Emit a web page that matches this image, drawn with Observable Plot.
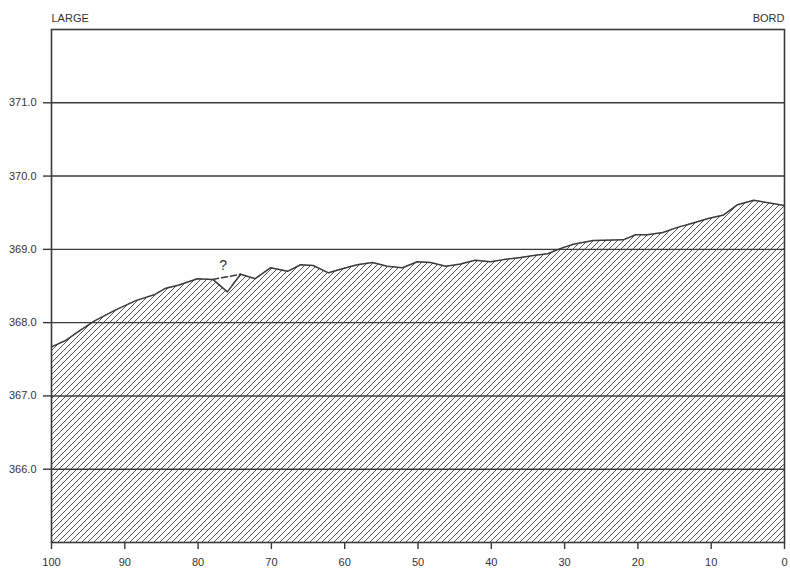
<!DOCTYPE html>
<html>
<head>
<meta charset="utf-8">
<script src="https://cdn.jsdelivr.net/npm/d3@7"></script>
<script src="https://cdn.jsdelivr.net/npm/@observablehq/plot@0.6"></script>
<style>
  html, body { margin: 0; padding: 0; background: #fff; }
  #chart { width: 790px; height: 570px; }
</style>
</head>
<body>
<div id="chart"></div>
<script>
// Distance from the edge (100 = large, 0 = bord)
const distance = [100, 98, 96, 94, 91.3, 88.5, 86, 84.4, 82.7, 80.1, 78, 76, 74.2, 72.2, 70.1, 67.8, 66, 64.3, 62.2, 60.2, 58.3, 56.2, 54.2, 52.1, 50.1, 48.3, 46.2, 44.2, 42.2, 40.1, 38.3, 36, 34, 32.3, 30.6, 28.8, 26.1, 22, 20.3, 18.7, 16.6, 14.6, 12.8, 10.4, 8.3, 6.4, 4.2, 0];
// Elevation of the profile
const elevation = [367.67, 367.76, 367.9, 368.03, 368.17, 368.3, 368.38, 368.47, 368.51, 368.6, 368.59, 368.42, 368.66, 368.6, 368.75, 368.7, 368.79, 368.78, 368.68, 368.74, 368.79, 368.82, 368.77, 368.75, 368.83, 368.82, 368.77, 368.8, 368.85, 368.83, 368.86, 368.89, 368.92, 368.94, 369.01, 369.07, 369.12, 369.13, 369.2, 369.2, 369.23, 369.3, 369.35, 369.42, 369.47, 369.61, 369.67, 369.6];
// Uncertain (dashed) segment
const dashedDistance = [78, 74.2];
const dashedElevation = [368.59, 368.66];
const questionMark = [{d: 76.6, e: 368.78, label: "?"}];
const yTicks = [366, 367, 368, 369, 370, 371];
const xTicks = [100, 90, 80, 70, 60, 50, 40, 30, 20, 10, 0];
const leftLabel = "LARGE";
const rightLabel = "BORD";

const profile = distance.map((d, i) => ({d, e: elevation[i]}));
const dashed = dashedDistance.map((d, i) => ({d, e: dashedElevation[i]}));

const ink = "#3a3a3a";

const plot = Plot.plot({
  width: 790,
  height: 570,
  marginLeft: 51,
  marginRight: 6,
  marginTop: 29,
  marginBottom: 28,
  style: {fontFamily: "'Liberation Sans', Arial, sans-serif", fontSize: "11px", color: "#333", background: "#fff"},
  x: {domain: [100, 0], ticks: xTicks},
  y: {domain: [365, 372], ticks: yTicks},
  marks: [
    Plot.areaY(profile, {x: "d", y1: 365, y2: "e", fill: "url(#hatch)", stroke: "none"}),
    Plot.gridY(yTicks, {stroke: ink, strokeOpacity: 1, strokeWidth: 1.4}),
    Plot.line(profile, {x: "d", y: "e", stroke: ink, strokeWidth: 1.5}),
    Plot.line(dashed, {x: "d", y: "e", stroke: ink, strokeWidth: 1.5, strokeDasharray: "6,3"}),
    Plot.text(questionMark, {x: "d", y: "e", text: "label", fontSize: 14, fill: "#333"}),
    Plot.frame({stroke: ink, strokeWidth: 1.6}),
    Plot.axisY(yTicks, {tickSize: 8, tickPadding: 7, tickFormat: d => d.toFixed(1), stroke: ink, strokeWidth: 1.4, label: null, fill: "#333"}),
    Plot.axisX(xTicks, {tickSize: 7, tickPadding: 9, tickFormat: d => String(d), stroke: ink, strokeWidth: 1.4, label: null, fill: "#333"}),
    Plot.text([leftLabel], {frameAnchor: "top-left", text: d => d, textAnchor: "start", lineAnchor: "middle", dy: -11, fill: "#333"}),
    Plot.text([rightLabel], {frameAnchor: "top-right", text: d => d, textAnchor: "end", lineAnchor: "middle", dy: -11, fill: "#333"})
  ]
});

// hatch pattern definition
const ns = "http://www.w3.org/2000/svg";
const defs = document.createElementNS(ns, "defs");
const pat = document.createElementNS(ns, "pattern");
pat.setAttribute("id", "hatch");
pat.setAttribute("patternUnits", "userSpaceOnUse");
pat.setAttribute("width", "6");
pat.setAttribute("height", "6");
const p = document.createElementNS(ns, "path");
p.setAttribute("d", "M-1,1 l2,-2 M0,6 l6,-6 M5,7 l2,-2");
p.setAttribute("stroke", "#444");
p.setAttribute("stroke-width", "0.9");
pat.appendChild(p);
defs.appendChild(pat);
plot.insertBefore(defs, plot.firstChild);

document.getElementById("chart").appendChild(plot);
</script>
</body>
</html>
